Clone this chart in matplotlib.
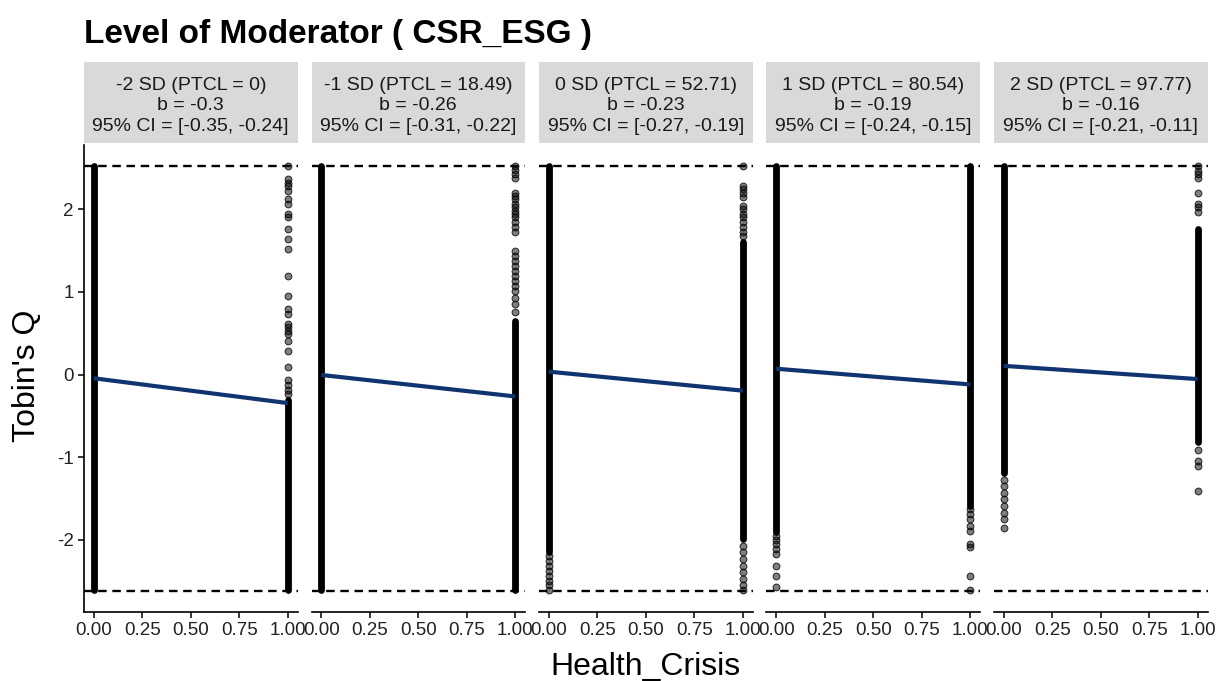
import matplotlib
matplotlib.use("Agg")
import matplotlib.pyplot as plt

plt.rcParams['font.family'] = ['Liberation Sans', 'DejaVu Sans']

# facet labels (moderator levels)
strip_labels = [
    "-2 SD (PTCL = 0)\nb = -0.3\n95% CI = [-0.35, -0.24]",
    "-1 SD (PTCL = 18.49)\nb = -0.26\n95% CI = [-0.31, -0.22]",
    "0 SD (PTCL = 52.71)\nb = -0.23\n95% CI = [-0.27, -0.19]",
    "1 SD (PTCL = 80.54)\nb = -0.19\n95% CI = [-0.24, -0.15]",
    "2 SD (PTCL = 97.77)\nb = -0.16\n95% CI = [-0.21, -0.11]",
]

# simple slopes: value at Health_Crisis = 0 and the slope b
intercepts = [-0.045, -0.005, 0.035, 0.07, 0.105]
slopes = [-0.30, -0.26, -0.23, -0.19, -0.16]

# observed range of Tobin's Q (dashed lines)
q_max = 2.518
q_min = -2.614

# solid runs of overplotted points (lo, hi) at Health_Crisis = 0 and 1
dense_at_0 = [(-2.61, 2.52), (-2.61, 2.52), (-2.15, 2.52), (-1.90, 2.52), (-1.19, 2.52)]
dense_at_1 = [(-2.61, -0.31), (-2.61, 0.65), (-1.99, 1.60), (-1.59, 2.52), (-0.81, 1.76)]

# separate points outside the solid runs
points_at_0 = [
    [],
    [],
    [-2.19, -2.25, -2.31, -2.37, -2.43, -2.49, -2.55, -2.61],
    [-1.95, -2.00, -2.05, -2.11, -2.17, -2.31, -2.43, -2.57],
    [-1.27, -1.35, -1.43, -1.51, -1.59, -1.67, -1.75, -1.85],
]
points_at_1 = [
    [2.52, 2.36, 2.32, 2.28, 2.22, 2.12, 2.06, 1.94, 1.90, 1.76, 1.64, 1.52,
     1.19, 0.95, 0.79, 0.73, 0.61, 0.57, 0.53, 0.49, 0.41, 0.29, 0.09,
     -0.07, -0.13, -0.19, -0.23],
    [2.52, 2.47, 2.42, 2.38, 2.20, 2.16, 2.12, 2.06, 2.02, 1.98, 1.94, 1.90,
     1.84, 1.78, 1.72, 1.49, 1.43, 1.37, 1.31, 1.25, 1.19, 1.13, 1.07, 1.01,
     0.93, 0.85, 0.75],
    [2.52, 2.28, 2.24, 2.20, 2.14, 2.04, 2.00, 1.94, 1.90, 1.84, 1.78, 1.72,
     1.68, -2.07, -2.15, -2.23, -2.31, -2.39, -2.47, -2.55, -2.61],
    [-1.63, -1.69, -1.75, -1.83, -1.89, -2.05, -2.09, -2.43, -2.61],
    [2.52, 2.46, 2.42, 2.38, 2.20, 2.06, 2.02, 1.96, -0.91, -1.05, -1.11, -1.41],
]

x_ticks = [0, 0.25, 0.5, 0.75, 1]
y_ticks = [-2, -1, 0, 1, 2]

W, H = 1223, 681
fig = plt.figure(figsize=(W / 100, H / 100), dpi=100)


def fx(px):
    return px / W


def fy(py):
    return 1 - py / H


left0, pitch, pw = 84, 227.5, 213.5
ptop, pbot = 145, 612
stop, sbot = 62, 143

line_col = '#10346f'
dot = 4.9  # point diameter in pt

pad = 0.05 * (q_max - q_min)

for i in range(5):
    left = left0 + i * pitch
    ax = fig.add_axes([fx(left), fy(pbot), pw / W, (pbot - ptop) / H])

    for x, (lo, hi) in ((0, dense_at_0[i]), (1, dense_at_1[i])):
        ax.plot([x, x], [lo, hi], color='black', lw=dot,
                solid_capstyle='round', zorder=2)
    for x, ys in ((0, points_at_0[i]), (1, points_at_1[i])):
        if ys:
            ax.scatter([x] * len(ys), ys, s=dot ** 2, facecolor=(0, 0, 0, 0.5),
                       edgecolor=(0, 0, 0, 0.8), linewidths=0.7, zorder=2)

    ax.axhline(q_max, color='black', lw=1.7, ls=(0, (3.6, 2.4)), zorder=3)
    ax.axhline(q_min, color='black', lw=1.7, ls=(0, (3.6, 2.4)), zorder=3)

    ax.plot([0, 1], [intercepts[i], intercepts[i] + slopes[i]],
            color=line_col, lw=3.0, solid_capstyle='butt', zorder=4)

    ax.set_xlim(-0.05, 1.05)
    ax.set_ylim(q_min - pad, q_max + pad)
    ax.set_xticks(x_ticks)
    ax.set_xticklabels([f"{t:.2f}" for t in x_ticks])
    ax.set_yticks(y_ticks)
    ax.set_yticklabels([str(t) for t in y_ticks])

    for s in ('top', 'right'):
        ax.spines[s].set_visible(False)
    ax.spines['bottom'].set_linewidth(1.2)
    ax.spines['left'].set_linewidth(1.2)
    ax.tick_params(length=4.5, width=1.1, labelsize=13.5, labelcolor='#222222', pad=3)
    if i > 0:
        ax.spines['left'].set_visible(False)
        ax.tick_params(axis='y', left=False, labelleft=False)

    # facet strip
    sax = fig.add_axes([fx(left), fy(sbot), pw / W, (sbot - stop) / H])
    sax.set_xticks([])
    sax.set_yticks([])
    sax.set_facecolor('#d9d9d9')
    for s in sax.spines.values():
        s.set_visible(False)
    sax.text(0.5, 0.46, strip_labels[i], ha='center', va='center',
             fontsize=14, color='#1a1a1a', linespacing=1.28,
             transform=sax.transAxes)

fig.text(fx(84), fy(43), "Level of Moderator ( CSR_ESG )", fontsize=24,
         fontweight='bold', ha='left', va='baseline')
fig.text(fx(645), fy(675), "Health_Crisis", fontsize=23, ha='center', va='baseline')
fig.text(fx(27), fy(376), "Tobin's Q", fontsize=23, rotation=90,
         ha='center', va='center')

fig.savefig("out.png", dpi=100, facecolor='white')
